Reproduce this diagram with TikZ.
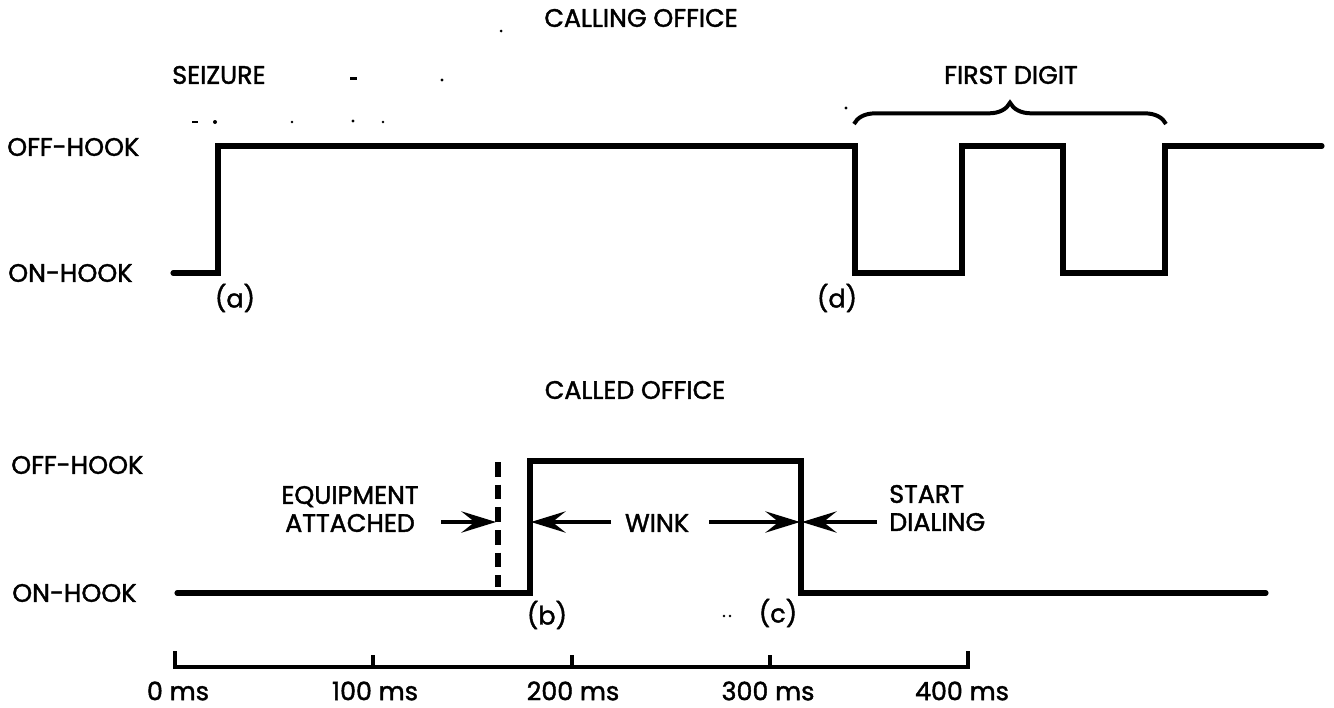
\documentclass[tikz,border=0pt]{standalone}
\usepackage{fontspec}
\setmainfont{Poppins}[FakeBold=1.6]
\usetikzlibrary{arrows.meta,decorations.pathreplacing}
\begin{document}
\begin{tikzpicture}[x=0.75pt,y=-0.75pt,
  lbl/.style={font=\fontsize{19}{21}\selectfont, inner sep=0pt, align=center},
  wave/.style={line width=3.8pt, line join=miter, line cap=round},
  pointer/.style={line width=2.3pt, -{Stealth[length=26pt,width=16pt,inset=10pt]}},
  axisline/.style={line width=2.3pt},
  speck/.style={fill=black, draw=none}]
\useasboundingbox (0,0) rectangle (1334,707);

% ---------- titles and labels ----------
\node[lbl] (calling) at (641,18) {CALLING OFFICE};
\node[lbl, anchor=west] (seizure) at (172,75) {SEIZURE};
\node[lbl, anchor=west] (offA) at (7,147) {OFF-HOOK};
\node[lbl, anchor=west] (onA) at (8,273) {ON-HOOK};
\node[lbl] (la) at (235,298) {(a)};
\node[lbl] (ld) at (837,298) {(d)};
\node[lbl] (first) at (1011,75) {FIRST DIGIT};

\node[lbl] (called) at (635,390) {CALLED OFFICE};
\node[lbl, anchor=west] (offB) at (11,465) {OFF-HOOK};
\node[lbl, anchor=west] (onB) at (12,593) {ON-HOOK};
\node[lbl] (equip) at (350,509) {EQUIPMENT\\ATTACHED};
\node[lbl] (wink) at (657,523) {WINK};
\node[lbl, anchor=west, align=left] (startd) at (889,508) {START\\DIALING};
\node[lbl] (lb) at (547,615) {(b)};
\node[lbl] (lc) at (778,613) {(c)};

% ---------- calling office waveform ----------
\coordinate (t0) at (173,273);
\coordinate (t1) at (218,273);
\coordinate (t2) at (218,146);
\coordinate (t3) at (855,146);
\coordinate (t4) at (855,273);
\coordinate (t5) at (962,273);
\coordinate (t6) at (962,146);
\coordinate (t7) at (1063,146);
\coordinate (t8) at (1063,273);
\coordinate (t9) at (1165,273);
\coordinate (t10) at (1165,146);
\coordinate (t11) at (1322,146);
\draw[wave] (t0) -- (t1) -- (t2) -- (t3) -- (t4) -- (t5) -- (t6) -- (t7) -- (t8) -- (t9) -- (t10) -- (t11);

% brace over first digit
\coordinate (bl) at (854,124);
\coordinate (br) at (1166,124);
\draw[line width=3pt, decorate, decoration={brace, amplitude=16pt}] (bl) -- (br);

% ---------- called office waveform ----------
\coordinate (c0) at (177,593);
\coordinate (c1) at (530,593);
\coordinate (c2) at (530,461);
\coordinate (c3) at (801,461);
\coordinate (c4) at (801,593);
\coordinate (c5) at (1266,593);
\draw[wave] (c0) -- (c1) -- (c2) -- (c3) -- (c4) -- (c5);

% equipment attached marker
\coordinate (dtop) at (498,462);
\coordinate (dbot) at (498,587);
\draw[line width=3.8pt, dash pattern=on 11pt off 6pt] (dtop) -- (dbot);

% pointers
\coordinate (eqT) at (441,522);
\coordinate (eqH) at (496,522);
\coordinate (wlT) at (611,522);
\coordinate (wlH) at (531,522);
\coordinate (wrT) at (709,522);
\coordinate (wrH) at (800,522);
\coordinate (sdT) at (877,522);
\coordinate (sdH) at (802,522);
\draw[pointer] (eqT) -- (eqH);
\draw[pointer] (wlT) -- (wlH);
\draw[pointer] (wrT) -- (wrH);
\draw[pointer] (sdT) -- (sdH);

% ---------- time axis ----------
\coordinate (x0) at (175,667);
\coordinate (x1) at (373,667);
\coordinate (x2) at (572,667);
\coordinate (x3) at (770,667);
\coordinate (x4) at (968,667);
\draw[axisline] ([yshift=12pt]x0) -- (x0) -- (x4) -- ([yshift=12pt]x4);
\foreach \p in {x1,x2,x3} \draw[axisline] (\p) -- ([yshift=9pt]\p);
\node[lbl] (m0) at (178,691) {0 ms};
\node[lbl] (m1) at (375,691) {100 ms};
\node[lbl] (m2) at (573,691) {200 ms};
\node[lbl] (m3) at (768,691) {300 ms};
\node[lbl] (m4) at (962,691) {400 ms};

% ---------- scan specks ----------
\fill[speck] (501,31) circle (1.5);
\fill[speck] (350,77) rectangle (357,79.5);
\fill[speck] (442,80) circle (1.6);
\fill[speck] (192,121) rectangle (198,123);
\fill[speck] (215,122) circle (2);
\fill[speck] (292,122) circle (1.3);
\fill[speck] (353,121) circle (1.6);
\fill[speck] (383,122) circle (1.3);
\fill[speck] (846,108) circle (1.6);
\fill[speck] (724,616) circle (1.3);
\fill[speck] (730,616) circle (1.3);
\end{tikzpicture}
\end{document}
